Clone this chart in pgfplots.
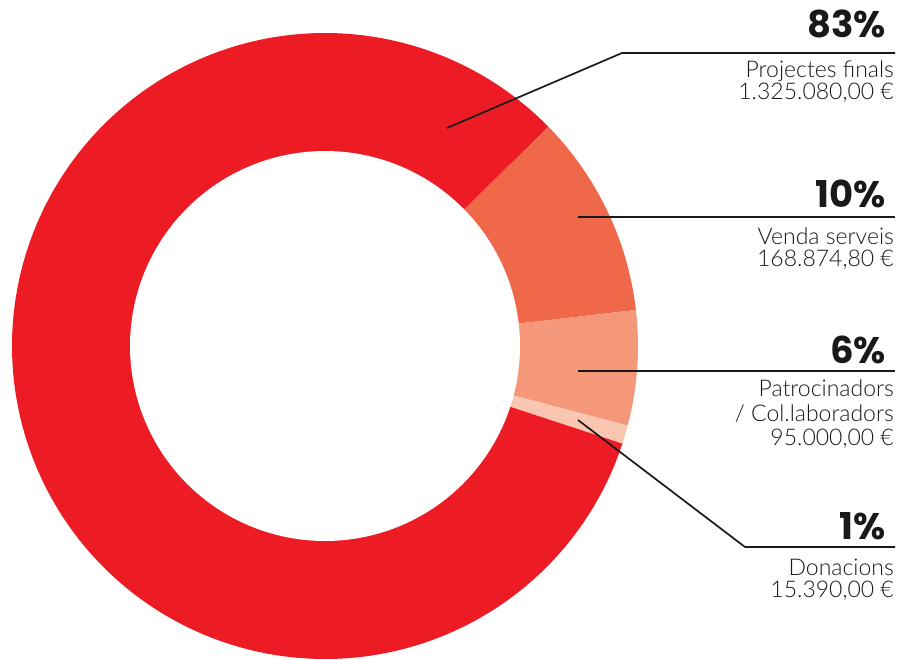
\documentclass[border=0pt]{standalone}
\usepackage{pgfplots}
\usepackage{pgfplotstable}
\pgfplotsset{compat=1.18}
\usepackage{fontspec}
\setmainfont{Lato Light}
\newfontfamily\pctfont{Poppins}
\definecolor{cRed}{HTML}{ED1C24}
\definecolor{cOrange}{HTML}{F0684A}
\definecolor{cSalmon}{HTML}{F5987A}
\definecolor{cPale}{HTML}{FBC6B1}
% values in thousands of euros
\pgfplotstableread{
label value
Projectes 1325.080
Venda 168.8748
Patrocinadors 95.000
Donacions 15.390
}\piedata
\pgfplotstablegetelem{0}{value}\of\piedata \let\vA\pgfplotsretval
\pgfplotstablegetelem{1}{value}\of\piedata \let\vB\pgfplotsretval
\pgfplotstablegetelem{2}{value}\of\piedata \let\vC\pgfplotsretval
\pgfplotstablegetelem{3}{value}\of\piedata \let\vD\pgfplotsretval
\pgfmathsetmacro\tot{\vA+\vB+\vC+\vD}
\pgfmathsetmacro\aS{44.5}
\pgfmathsetmacro\aOne{\aS-\vB/\tot*360}
\pgfmathsetmacro\aTwo{\aOne-\vC/\tot*360}
\pgfmathsetmacro\aThree{\aTwo-\vD/\tot*360}
\pgfmathsetmacro\aEnd{\aThree-\vA/\tot*360}
\def\cx{325}\def\cy{346}\def\Ro{313}\def\Ri{195}
\begin{document}
\begin{tikzpicture}
\begin{axis}[
  scale only axis, width=901pt, height=660pt,
  xmin=0, xmax=901, ymin=0, ymax=660, y dir=reverse,
  hide axis, clip=false,
]
\addplot[fill=cOrange, draw=none, domain=\aOne:\aS, samples=60, variable=\t]
  ({\cx+\Ro*cos(\t)},{\cy-\Ro*sin(\t)}) -- (axis cs:\cx,\cy) -- cycle;
\addplot[fill=cSalmon, draw=none, domain=\aTwo:\aOne, samples=40, variable=\t]
  ({\cx+\Ro*cos(\t)},{\cy-\Ro*sin(\t)}) -- (axis cs:\cx,\cy) -- cycle;
\addplot[fill=cPale, draw=none, domain=\aThree:\aTwo, samples=10, variable=\t]
  ({\cx+\Ro*cos(\t)},{\cy-\Ro*sin(\t)}) -- (axis cs:\cx,\cy) -- cycle;
\addplot[fill=cRed, draw=none, domain=\aEnd:\aThree, samples=300, variable=\t]
  ({\cx+\Ro*cos(\t)},{\cy-\Ro*sin(\t)}) -- (axis cs:\cx,\cy) -- cycle;
\addplot[fill=white, draw=none, domain=0:360, samples=300, variable=\t]
  ({\cx+\Ri*cos(\t)},{\cy-\Ri*sin(\t)}) -- cycle;
% leader lines
\draw[line width=1.7pt, black!90] (axis cs:447,128) -- (axis cs:622,53) -- (axis cs:895,53);
\draw[line width=1.7pt, black!90] (axis cs:578,217) -- (axis cs:895,217);
\draw[line width=1.7pt, black!90] (axis cs:578,371) -- (axis cs:895,371);
\draw[line width=1.7pt, black!90] (axis cs:578,420) -- (axis cs:745,547) -- (axis cs:895,547);
% percentages
\tikzset{pct/.style={anchor=base east, inner sep=0pt, font=\pctfont\bfseries\fontsize{37}{37}\selectfont, text=black!90},
         lbl/.style={anchor=base east, inner sep=0pt, font=\fontsize{23}{23}\selectfont, text=black!90}}
\node[pct] at (axis cs:886,38) {83\%};
\node[pct] at (axis cs:886,208) {10\%};
\node[pct] at (axis cs:886,363) {6\%};
\node[pct] at (axis cs:886,539) {1\%};
% labels
\node[lbl] at (axis cs:894,78) {Projectes finals};
\node[lbl] at (axis cs:894,100) {1.325.080,00 €};
\node[lbl] at (axis cs:894,244) {Venda serveis};
\node[lbl] at (axis cs:894,266) {168.874,80 €};
\node[lbl] at (axis cs:894,396) {Patrocinadors};
\node[lbl] at (axis cs:894,421) {/ Col.laboradors};
\node[lbl] at (axis cs:894,445) {95.000,00 €};
\node[lbl] at (axis cs:894,575) {Donacions};
\node[lbl] at (axis cs:894,597) {15.390,00 €};
\end{axis}
\pgfresetboundingbox
\path (current axis.south west) rectangle (current axis.north east);
\end{tikzpicture}
\end{document}
